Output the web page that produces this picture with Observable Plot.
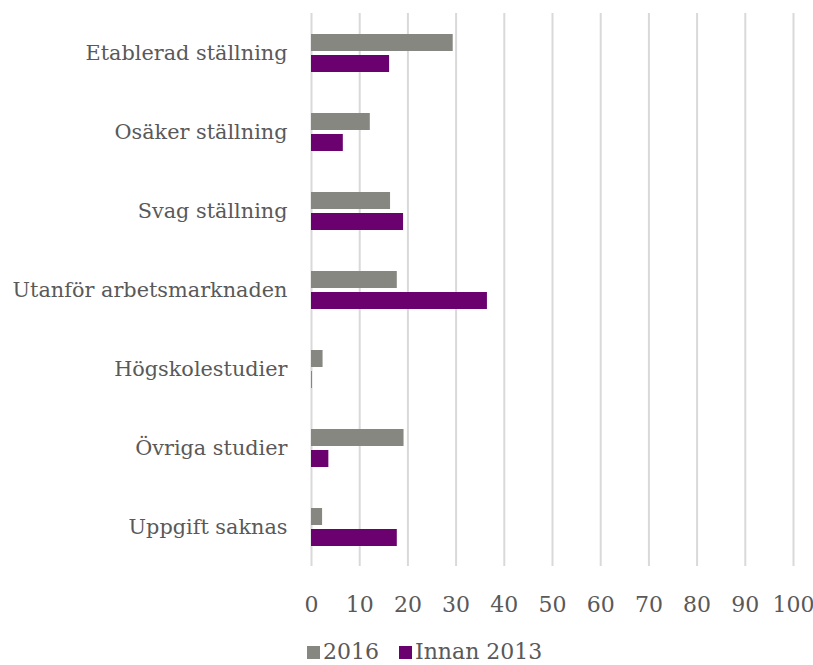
<!DOCTYPE html>
<html>
<head>
<meta charset="utf-8">
<script src="https://cdn.jsdelivr.net/npm/d3@7"></script>
<script src="https://cdn.jsdelivr.net/npm/@observablehq/plot@0.6"></script>
<style>
  body { margin: 0; background: #fff; font-family: "DejaVu Serif", serif; color: #595959; }
  #chart svg { display: block; }
  #legend { display: flex; gap: 20px; padding-left: 307px; margin-top: 16px; font-size: 22px; line-height: 22px; align-items: center; }
  #legend span.sw { display: inline-block; width: 13px; height: 13px; margin-right: 3px; }
  #legend .item { display: flex; align-items: center; }
</style>
</head>
<body>
<div id="chart"></div>
<script>
const categories = ["Etablerad ställning", "Osäker ställning", "Svag ställning", "Utanför arbetsmarknaden", "Högskolestudier", "Övriga studier", "Uppgift saknas"];
const series = ["2016", "Innan 2013"];
const values2016 = [29.4, 12.2, 16.4, 17.8, 2.4, 19.2, 2.3];
const valuesInnan2013 = [16.2, 6.6, 19.1, 36.5, 0.1, 3.6, 17.8];
const colors = ["#878781", "#6b006f"];
const xTicks = [0, 10, 20, 30, 40, 50, 60, 70, 80, 90, 100];

const rows = [];
categories.forEach((c, i) => {
  rows.push({category: c, series: series[0], value: values2016[i]});
  rows.push({category: c, series: series[1], value: valuesInnan2013[i]});
});

const chart = Plot.plot({
  width: 813,
  height: 625,
  marginTop: 12,
  marginBottom: 58,
  marginLeft: 311,
  marginRight: 20,
  style: {fontFamily: "DejaVu Serif, serif", fontSize: "20px", color: "#595959", background: "#fff"},
  x: {domain: [0, 100], ticks: xTicks, tickSize: 0, tickPadding: 30, label: null},
  y: {domain: series, paddingInner: 0.2, paddingOuter: 0.9, axis: null},
  fy: {domain: categories, padding: 0, tickSize: 0, tickPadding: 24, label: null},
  color: {domain: series, range: colors},
  marks: [
    Plot.gridX(xTicks, {stroke: "#d9d9d9", strokeWidth: 2, strokeOpacity: 1}),
    Plot.barX(rows, {fy: "category", y: "series", x: "value", fill: "series"}),
    Plot.axisX({ticks: xTicks, tickSize: 0, tickPadding: 30, fontSize: 22, fill: "#595959"}),
    Plot.axisFy({anchor: "left", tickSize: 0, tickPadding: 24, fontSize: 20.8, fill: "#595959", label: null})
  ]
});
document.getElementById("chart").appendChild(chart);

const legend = document.createElement("div");
legend.id = "legend";
series.forEach((s, i) => {
  const item = document.createElement("div");
  item.className = "item";
  const sw = document.createElement("span");
  sw.className = "sw";
  sw.style.background = colors[i];
  item.appendChild(sw);
  item.appendChild(document.createTextNode(s));
  legend.appendChild(item);
});
document.body.appendChild(legend);
</script>
</body>
</html>
